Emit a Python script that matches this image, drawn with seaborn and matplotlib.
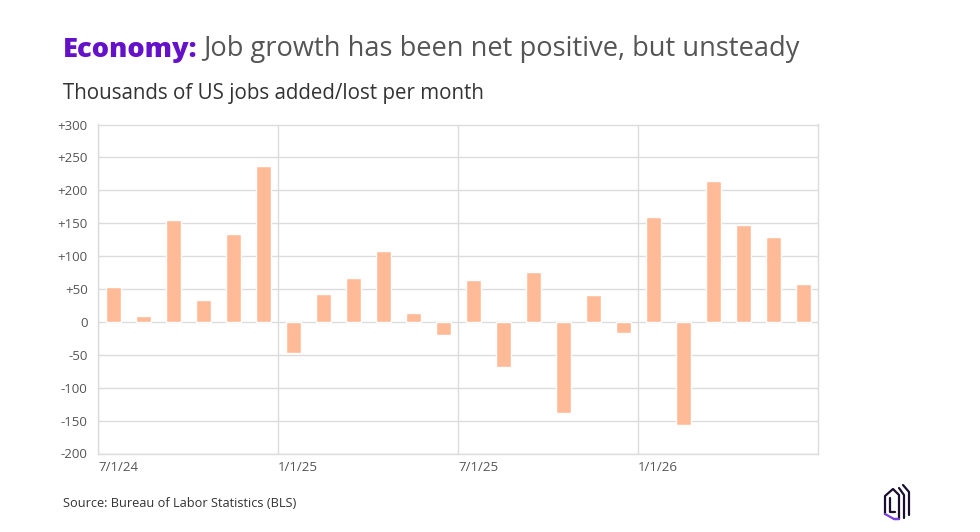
import matplotlib
matplotlib.use("Agg")
import matplotlib.pyplot as plt
import seaborn as sns
import pandas as pd
import numpy as np
from matplotlib.lines import Line2D

# ---- data ----
months = ["2024-07", "2024-08", "2024-09", "2024-10", "2024-11", "2024-12",
          "2025-01", "2025-02", "2025-03", "2025-04", "2025-05", "2025-06",
          "2025-07", "2025-08", "2025-09", "2025-10", "2025-11", "2025-12",
          "2026-01", "2026-02", "2026-03", "2026-04", "2026-05", "2026-06"]
jobs = [53, 9, 155, 33, 134, 237,
        -47, 42, 66, 107, 13, -20,
        64, -69, 76, -139, 41, -17,
        160, -156, 214, 147, 129, 57]
tick_labels = ["7/1/24", "1/1/25", "7/1/25", "1/1/26"]
y_ticks = [300, 250, 200, 150, 100, 50, 0, -50, -100, -150, -200]

title_bold = "Economy:"
title_rest = "Job growth has been net positive, but unsteady"
subtitle = "Thousands of US jobs added/lost per month"
source = "Source: Bureau of Labor Statistics (BLS)"

# ---- prep ----
dates = pd.to_datetime(months)
start = dates[0]
pos = (dates.year - start.year) * 12 + (dates.month - start.month) + 0.5
df = pd.DataFrame({"pos": pos, "jobs": jobs})

sns.set_theme(style="white")
plt.rcParams["font.family"] = ["Open Sans", "DejaVu Sans"]

fig = plt.figure(figsize=(9.8, 5.32), dpi=100)
ax = fig.add_axes([98 / 980, 1 - 453.5 / 532, 720 / 980, (453.5 - 124.5) / 532])

sns.barplot(data=df, x="pos", y="jobs", native_scale=True, width=0.5,
            color="#FFBA98", saturation=1, ax=ax, zorder=3)

grid_c = "#DCDCDC"
ax.set_xlim(0, 24)
ax.set_ylim(-200, 300)
ax.set_yticks(y_ticks)
ax.set_yticklabels([("+%d" % v) if v > 0 else str(v) for v in y_ticks])
ax.set_xticks([0, 6, 12, 18])
ax.set_xticklabels(tick_labels, ha="left")
ax.set_xlabel("")
ax.set_ylabel("")
ax.grid(True, axis="both", color=grid_c, linewidth=1, zorder=0)
ax.set_axisbelow(True)
for s in ax.spines.values():
    s.set_visible(True)
    s.set_color(grid_c)
    s.set_linewidth(1)
ax.tick_params(axis="y", length=0, pad=7.5, labelsize=9.5, labelcolor="#555555")
ax.tick_params(axis="x", length=0, pad=5.5, labelsize=9.5, labelcolor="#555555")

# ---- text ----
t1 = fig.text(63 / 980, 1 - 57 / 532, title_bold, fontsize=19.6, fontweight="heavy",
              color="#6411C9", va="baseline", ha="left")
ax.annotate(title_rest, xy=(1, 0), xycoords=t1, xytext=(4, 0),
            textcoords="offset points", va="bottom", ha="left",
            fontsize=19.6, color="#555555", annotation_clip=False)
fig.text(63 / 980, 1 - 99 / 532, subtitle, fontsize=14.8, color="#333333",
         va="baseline", ha="left")
fig.text(63 / 980, 1 - 507 / 532, source, fontsize=9.2, color="#333333",
         va="baseline", ha="left")

# ---- logo ----
lax = fig.add_axes([880 / 980, 1 - 522 / 532, 34 / 980, 38 / 532])
lax.set_xlim(0, 34)
lax.set_ylim(38, 0)
lax.axis("off")
navy = "#1B0F2E"
purple = "#7B3FE4"
lax.add_line(Line2D([5, 5, 13, 19, 19, 14], [30, 12, 5, 11, 35, 35], color=navy, lw=1.6))
lax.add_line(Line2D([10, 10, 15], [14, 28, 28], color=navy, lw=1.6))
lax.add_line(Line2D([5, 14, 19], [30, 35, 35], color=purple, lw=1.6))
lax.add_line(Line2D([19, 24, 24], [4, 11, 34], color=navy, lw=1.6))
lax.add_line(Line2D([23, 29, 29], [1, 8, 31], color=navy, lw=1.6))

fig.savefig("out.png", dpi=100, facecolor="white")
